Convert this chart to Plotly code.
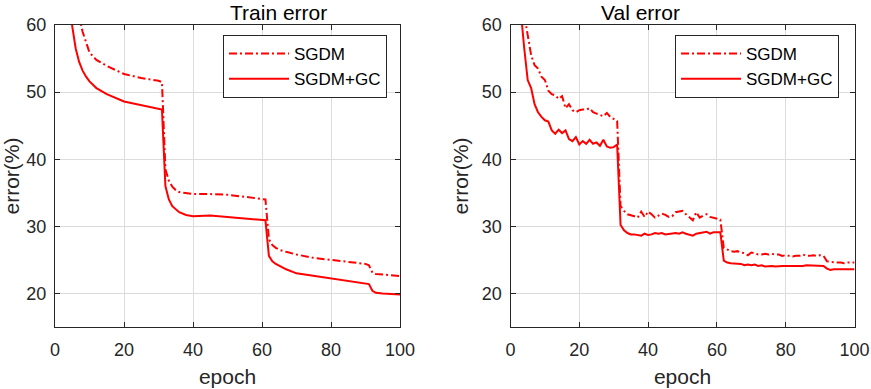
import plotly.graph_objects as go
from plotly.subplots import make_subplots

# train error, read at selected epochs (the curves are smooth)
train_epoch = [1, 3, 5, 6, 7, 8, 9, 10, 12, 15, 20, 25, 30, 31,
               32, 33, 34, 35, 36, 38, 40, 45, 50, 55, 60, 61,
               62, 63, 64, 65, 67, 70, 75, 80, 85, 90, 91,
               92, 93, 95, 100]
train_sgdm = [95, 80, 70, 66, 61.2, 59.0, 57.3, 55.9, 54.8, 53.9, 52.7, 52.1, 51.7, 51.5,
              38.5, 36.8, 35.9, 35.4, 35.1, 34.9, 34.8, 34.8, 34.7, 34.4, 34.1, 34.0,
              28.1, 27.2, 26.8, 26.5, 26.2, 25.8, 25.3, 25.0, 24.7, 24.4, 24.2,
              23.1, 22.9, 22.8, 22.6]
train_gc = [90, 72, 59.8, 56.5, 54.5, 53.2, 52.3, 51.6, 50.6, 49.7, 48.6, 48.1, 47.6, 47.4,
            36.0, 34.0, 33.0, 32.5, 32.1, 31.7, 31.5, 31.6, 31.4, 31.2, 31.0, 30.9,
            25.6, 24.8, 24.4, 24.1, 23.6, 23.0, 22.6, 22.2, 21.9, 21.5, 21.4,
            20.4, 20.1, 20.0, 19.85]

# validation error, one value per epoch
val_epoch = list(range(1, 101))
val_sgdm = [90, 78, 68, 61.5, 58.5, 55.5, 54.0, 53.5, 52.3, 51.8,
            50.2, 49.7, 49.5, 49.0, 49.4, 47.6, 48.2, 47.3, 47.0, 47.3,
            47.4, 47.4, 47.6, 47.0, 46.8, 46.6, 46.4, 46.9, 46.3, 46.0,
            45.7, 33.0, 32.3, 31.8, 31.7, 31.5, 31.3, 32.2, 31.4, 32.2,
            31.8, 31.3, 31.6, 31.9, 31.7, 31.4, 31.5, 32.1, 32.2, 32.3,
            31.8, 31.3, 30.9, 32.1, 31.3, 31.6, 31.8, 31.4, 31.3, 31.2,
            31.0, 26.8, 26.5, 26.3, 26.2, 26.3, 26.1, 26.0, 25.7, 26.1,
            26.0, 25.8, 25.8, 25.9, 25.8, 25.9, 25.8, 25.8, 25.6, 25.7,
            25.6, 25.5, 25.6, 25.6, 25.8, 25.6, 25.6, 25.7, 25.6, 25.7,
            25.6, 24.8, 24.7, 24.6, 24.6, 24.6, 24.5, 24.6, 24.6, 24.6]
val_gc = [85, 72, 62.0, 56.5, 51.8, 50.6, 48.2, 47.0, 46.3, 45.8,
          45.6, 44.3, 43.8, 44.4, 43.9, 44.3, 43.0, 42.7, 43.3, 42.2,
          42.7, 42.3, 42.9, 42.3, 42.5, 42.0, 42.9, 41.9, 41.7, 41.8,
          42.2, 30.2, 29.4, 29.0, 28.8, 28.8, 28.7, 28.6, 28.9, 28.7,
          28.8, 29.0, 28.9, 29.0, 28.8, 28.9, 28.9, 29.0, 28.9, 29.1,
          28.9, 28.8, 28.6, 28.9, 29.0, 29.1, 29.2, 28.9, 29.1, 29.1,
          29.1, 24.9, 24.6, 24.5, 24.5, 24.4, 24.4, 24.2, 24.3, 24.2,
          24.3, 24.1, 24.2, 24.0, 24.1, 24.1, 24.0, 24.1, 24.1, 24.1,
          24.1, 24.0, 24.0, 24.1, 24.1, 24.2, 24.2, 24.2, 24.2, 24.2,
          24.1, 23.7, 23.5, 23.6, 23.6, 23.5, 23.6, 23.6, 23.6, 23.6]

titles = ["Train error", "Val error"]
x_ticks = [0, 20, 40, 60, 80, 100]
y_ticks = [20, 30, 40, 50, 60]

FONT = "Liberation Sans, Arial, sans-serif"
TXT = "#262626"
red = "#ff0000"
dashdot = "8px,3px,2px,3px"

fig = make_subplots(rows=1, cols=2)

panels = [(train_epoch, train_sgdm, train_gc, "legend"),
          (val_epoch, val_sgdm, val_gc, "legend2")]
for i, (ep, sg, gc, leg) in enumerate(panels):
    fig.add_trace(go.Scatter(x=ep, y=sg, mode="lines", name="SGDM", legend=leg,
                             line=dict(color=red, width=2, dash=dashdot)), row=1, col=i + 1)
    fig.add_trace(go.Scatter(x=ep, y=gc, mode="lines", name="SGDM+GC", legend=leg,
                             line=dict(color=red, width=2)), row=1, col=i + 1)

W, H = 871, 389
doms = [[55 / W, 400 / W], [510.5 / W, 854.5 / W]]
ydom = [(H - 327) / H, (H - 25) / H]

for i in range(2):
    fig.update_xaxes(domain=doms[i], range=[0, 100], tickvals=x_ticks,
                     ticks="inside", ticklen=5, tickcolor=TXT, mirror="ticks",
                     showline=True, linecolor=TXT, linewidth=1,
                     showgrid=True, gridcolor="#dcdcdc", zeroline=False,
                     ticklabelstandoff=6,
                     tickfont=dict(family=FONT, size=18, color=TXT),
                     title=dict(text="epoch", standoff=10,
                                font=dict(family=FONT, size=21, color=TXT)),
                     automargin=False, row=1, col=i + 1)
    fig.update_yaxes(domain=ydom, range=[15, 60], tickvals=y_ticks,
                     ticks="inside", ticklen=5, tickcolor=TXT, mirror="ticks",
                     showline=True, linecolor=TXT, linewidth=1,
                     showgrid=True, gridcolor="#dcdcdc", zeroline=False,
                     ticklabelstandoff=4,
                     tickfont=dict(family=FONT, size=18, color=TXT),
                     title=dict(text="error(%)", standoff=7,
                                font=dict(family=FONT, size=21, color=TXT)),
                     automargin=False, row=1, col=i + 1)
    fig.add_annotation(text=titles[i], xref="paper", yref="paper",
                       x=(doms[i][0] + doms[i][1]) / 2, y=1, yanchor="top",
                       yshift=1, showarrow=False,
                       font=dict(family=FONT, size=21, color="#000000"))

legend_style = dict(xanchor="right", yanchor="top", bgcolor="white",
                    bordercolor=TXT, borderwidth=1, itemwidth=60,
                    font=dict(family=FONT, size=17, color="#000000"),
                    tracegroupgap=0)
fig.update_layout(
    width=W, height=H,
    margin=dict(l=0, r=0, t=0, b=0),
    paper_bgcolor="white", plot_bgcolor="white",
    showlegend=True,
    legend=dict(x=387 / W, y=(H - 35) / H, **legend_style),
    legend2=dict(x=839 / W, y=(H - 35) / H, **legend_style),
)

# drop the browser's default 8px body margin so the figure fills the window
fig.write_html("out.html", config={"displayModeBar": False},
               post_script="document.body.style.margin='0';")
